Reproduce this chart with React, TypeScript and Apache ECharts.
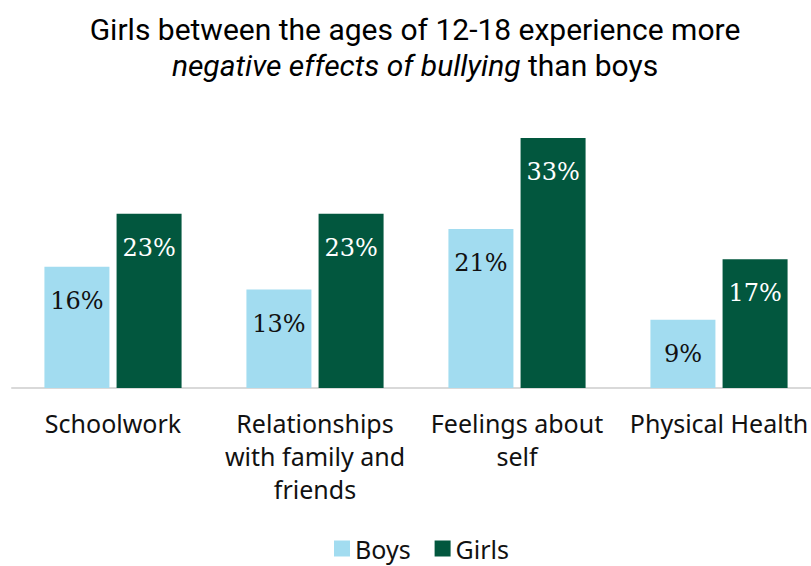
import React, { useEffect, useRef } from "react";
import * as echarts from "echarts";

const categories = ["Schoolwork", "Relationships\nwith family and\nfriends", "Feelings about\nself", "Physical Health"];
const boys = [16, 13, 21, 9];
const girls = [23, 23, 33, 17];

export default function App() {
  const ref = useRef<HTMLDivElement>(null);
  useEffect(() => {
    const chart = echarts.init(ref.current!, null, { renderer: "svg" });
    const labelBase = {
      show: true,
      position: "insideTop" as const,
      distance: 22,
      fontFamily: "DejaVu Serif",
      fontSize: 24,
      formatter: "{c}%",
    };
    chart.setOption({
      animation: false,
      backgroundColor: "#ffffff",
      title: {
        text: "Girls between the ages of 12-18 experience more\n{i|negative effects of bullying} than boys",
        left: 410,
        textAlign: "center",
        top: 6,
        textStyle: {
          fontFamily: "Roboto",
          fontWeight: "normal",
          fontSize: 30,
          color: "#000",
          lineHeight: 36,
          rich: {
            i: { fontFamily: "Roboto", fontStyle: "italic", fontSize: 30, color: "#000", lineHeight: 36 },
          },
        },
      },
      legend: {
        bottom: 0,
        left: 329,
        itemWidth: 16,
        itemHeight: 16,
        itemGap: 24,
        icon: "rect",
        textStyle: { fontFamily: "Noto Sans", fontSize: 25, color: "#111" },
        data: ["Boys", "Girls"],
      },
      grid: { left: 12, width: 808, top: 138, bottom: 178, containLabel: false, outerBoundsMode: "none" },
      xAxis: {
        type: "category",
        data: categories,
        axisLine: { lineStyle: { color: "#d9d9d9", width: 2 } },
        axisTick: { show: false },
        axisLabel: {
          interval: 0,
          margin: 18,
          fontFamily: "Noto Sans",
          fontSize: 25,
          lineHeight: 33,
          color: "#111",
        },
      },
      yAxis: { type: "value", min: 0, max: 33, show: false, splitLine: { show: false } },
      series: [
        {
          name: "Boys",
          type: "bar",
          data: boys,
          barWidth: 65,
          barGap: "11%",
          itemStyle: { color: "#a2dcf0" },
          label: { ...labelBase, color: "#111" },
        },
        {
          name: "Girls",
          type: "bar",
          data: girls,
          barWidth: 65,
          barGap: "11%",
          itemStyle: { color: "#02573e" },
          label: { ...labelBase, color: "#ffffff" },
        },
      ],
    });
    return () => chart.dispose();
  }, []);
  return <div ref={ref} style={{ width: 811, height: 566, position: "absolute", left: 0, top: 0 }} />;
}
